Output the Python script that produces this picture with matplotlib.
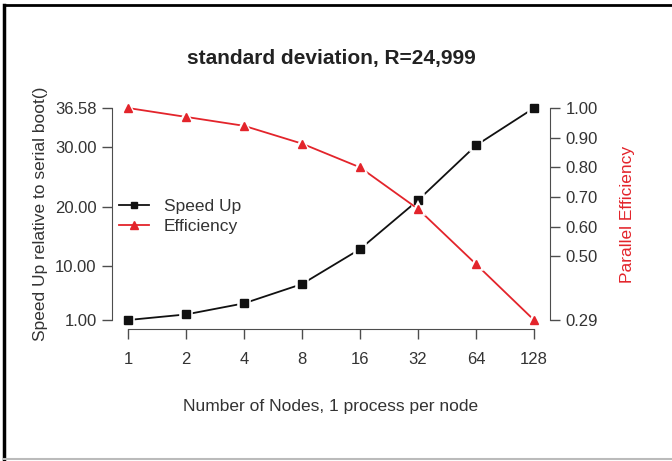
import numpy as np
import matplotlib
matplotlib.use('Agg')
import matplotlib.pyplot as plt
from matplotlib.lines import Line2D

plt.rcParams.update({
    'font.family': ['Liberation Sans', 'DejaVu Sans'],
    'font.size': 12,
})

# data
nodes = [1, 2, 4, 8, 16, 32, 64, 128]
speedup = [1.00, 1.94, 3.80, 7.04, 12.9, 21.1, 30.3, 36.58]
efficiency = [1.00, 0.97, 0.94, 0.88, 0.80, 0.66, 0.474, 0.2858]
left_ticks = [1.00, 10.00, 20.00, 30.00, 36.58]
right_ticks = [0.2858, 0.50, 0.60, 0.70, 0.80, 0.90, 1.00]

BLACK = '#111111'
RED = '#e3242b'
AXC = '#4d4d4d'
TXT = '#333333'

fig = plt.figure(figsize=(6.72, 4.61), dpi=100)
ax = fig.add_axes([0.1664, 0.2874, 0.6524, 0.4967])
ax2 = ax.twinx()

x = np.log2(nodes)

def r_lim(lo, hi):
    pad = 0.04 * (hi - lo)
    return lo - pad, hi + pad

ax.set_xlim(*r_lim(0, 7))
ax.set_ylim(*r_lim(min(speedup), max(speedup)))
ax2.set_ylim(*r_lim(min(efficiency), max(efficiency)))

# lines with a white halo round each point (R type="b" look)
ax.plot(x, speedup, color=BLACK, lw=1.3, marker='s', ms=6.5,
        mec='white', mew=2.6, mfc=BLACK, zorder=3)
ax2.plot(x, efficiency, color=RED, lw=1.3, marker='^', ms=7,
         mec='white', mew=2.6, mfc=RED, zorder=3)
ax.plot(x, speedup, ls='none', marker='s', ms=5.5, color=BLACK, zorder=4)
ax2.plot(x, efficiency, ls='none', marker='^', ms=6, color=RED, zorder=4)

for a in (ax, ax2):
    for s in a.spines.values():
        s.set_visible(False)
    a.tick_params(colors=AXC, labelcolor=TXT, length=7, width=1.0,
                  labelsize=12, pad=4)

ax.spines['left'].set_visible(True)
ax.spines['left'].set_bounds(min(speedup), max(speedup))
ax.spines['left'].set_color(AXC)
ax.spines['bottom'].set_visible(True)
ax.spines['bottom'].set_bounds(0, 7)
ax.spines['bottom'].set_color(AXC)
ax2.spines['right'].set_visible(True)
ax2.spines['right'].set_bounds(min(efficiency), max(efficiency))
ax2.spines['right'].set_color(AXC)

ax.set_xticks(x)
ax.set_xticklabels([str(n) for n in nodes])
ax.tick_params(axis='x', pad=10)
ax.set_yticks(left_ticks)
ax.set_yticklabels(['%.2f' % v for v in left_ticks])
ax2.set_yticks(right_ticks)
ax2.set_yticklabels(['%.2f' % v for v in right_ticks])

ax.set_xlabel('Number of Nodes, 1 process per node', fontsize=12.5,
              color=TXT, labelpad=23)
ax.set_ylabel('Speed Up relative to serial boot()', fontsize=12.5,
              color=TXT, labelpad=5)
ax2.set_ylabel('Parallel Efficiency', fontsize=12.5, color=RED, labelpad=16)

fig.text(0.4925, 0.874, 'standard deviation, R=24,999', ha='center',
         va='center', fontsize=15, fontweight='bold', color='#222222')

handles = [Line2D([], [], color=BLACK, lw=1.3, marker='s', ms=5),
           Line2D([], [], color=RED, lw=1.3, marker='^', ms=5.5)]
leg = ax.legend(handles, ['Speed Up', 'Efficiency'], loc='center left',
                bbox_to_anchor=(0.0, 0.49), frameon=False, fontsize=12.5,
                handlelength=1.75, handletextpad=0.85, labelspacing=0.3,
                borderaxespad=0.0)
for t in leg.get_texts():
    t.set_color(TXT)

# outer frame of the original picture
fig.add_artist(Line2D([0.006, 0.006], [0.0, 0.99], transform=fig.transFigure,
                      color='black', lw=2.5))
fig.add_artist(Line2D([0.006, 1.0], [0.99, 0.99], transform=fig.transFigure,
                      color='black', lw=2.0))
fig.add_artist(Line2D([0.006, 1.0], [0.004, 0.004], transform=fig.transFigure,
                      color='#bbbbbb', lw=1.5))

fig.savefig('out.png', dpi=100)
plt.close(fig)
